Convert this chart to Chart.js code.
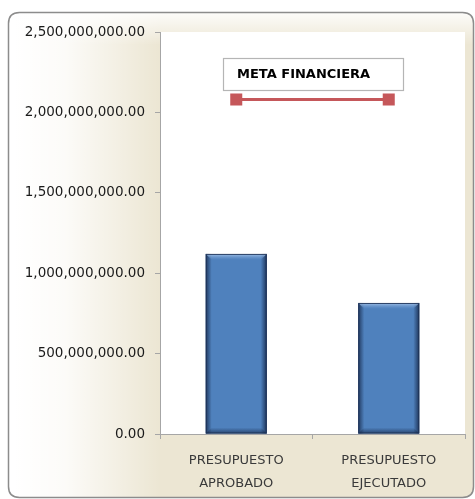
<!DOCTYPE html>
<html>
<head>
<meta charset="utf-8">
<script src="https://cdn.jsdelivr.net/npm/chart.js@4/dist/chart.umd.min.js"></script>
<style>
html,body{margin:0;padding:0;background:#ffffff;}
#wrap{width:475px;height:499px;position:relative;}
</style>
</head>
<body>
<div id="wrap"><canvas id="c" width="475" height="499"></canvas></div>
<script>
// ---- data ----
const categories = [["PRESUPUESTO","APROBADO"],["PRESUPUESTO","EJECUTADO"]];
const budgetValues = [1120000000, 815000000];
const goalValues = [2080000000, 2080000000];
const goalLabel = "META FINANCIERA";
const yMin = 0, yMax = 2500000000, yStep = 500000000;

const BEIGE = '#ECE6D3';

function roundRect(ctx, x, y, w, h, r) {
  ctx.beginPath();
  ctx.moveTo(x + r, y);
  ctx.lineTo(x + w - r, y);
  ctx.quadraticCurveTo(x + w, y, x + w, y + r);
  ctx.lineTo(x + w, y + h - r);
  ctx.quadraticCurveTo(x + w, y + h, x + w - r, y + h);
  ctx.lineTo(x + r, y + h);
  ctx.quadraticCurveTo(x, y + h, x, y + h - r);
  ctx.lineTo(x, y + r);
  ctx.quadraticCurveTo(x, y, x + r, y);
  ctx.closePath();
}

const bgPlugin = {
  id: 'bg',
  beforeDraw(chart) {
    const ctx = chart.ctx, a = chart.chartArea;
    ctx.save();
    const bx = 8.5, by = 12.5, bw = 465, bh = 485;
    roundRect(ctx, bx, by, bw, bh, 11);
    ctx.fillStyle = BEIGE;
    ctx.fill();
    ctx.save();
    ctx.clip();
    let g = ctx.createLinearGradient(14, 0, 160, 0);
    g.addColorStop(0, 'rgba(255,255,255,1)');
    g.addColorStop(0.35, 'rgba(255,255,255,0.85)');
    g.addColorStop(1, 'rgba(255,255,255,0)');
    ctx.fillStyle = g;
    ctx.fillRect(0, 0, 475, 499);
    let g2 = ctx.createLinearGradient(0, 12, 0, 45);
    g2.addColorStop(0, 'rgba(255,255,255,0.9)');
    g2.addColorStop(1, 'rgba(255,255,255,0)');
    ctx.fillStyle = g2;
    ctx.fillRect(0, 0, 475, 60);
    ctx.restore();
    // border
    roundRect(ctx, bx, by, bw, bh, 11);
    ctx.strokeStyle = '#8C8C8C';
    ctx.lineWidth = 1.5;
    ctx.stroke();
    // plot area
    ctx.fillStyle = '#FFFFFF';
    ctx.fillRect(a.left, a.top, a.right - a.left, a.bottom - a.top);
    ctx.restore();
  }
};

const bevelPlugin = {
  id: 'bevel',
  afterDatasetDraw(chart, args) {
    if (args.index !== 1) return;
    const ctx = chart.ctx;
    const meta = chart.getDatasetMeta(1);
    meta.data.forEach(bar => {
      const l = bar.x - bar.width / 2, r = bar.x + bar.width / 2, t = bar.y, b = bar.base;
      if (![l, r, t, b].every(Number.isFinite)) return;
      const e = 6;
      ctx.save();
      // left edge
      let g = ctx.createLinearGradient(l, 0, l + e, 0);
      g.addColorStop(0, 'rgba(25,45,80,0.85)');
      g.addColorStop(1, 'rgba(25,45,80,0)');
      ctx.fillStyle = g; ctx.fillRect(l, t, e, b - t);
      // right edge
      g = ctx.createLinearGradient(r - e, 0, r, 0);
      g.addColorStop(0, 'rgba(25,45,80,0)');
      g.addColorStop(1, 'rgba(25,45,80,0.9)');
      ctx.fillStyle = g; ctx.fillRect(r - e, t, e, b - t);
      // top bevel
      g = ctx.createLinearGradient(0, t, 0, t + e);
      g.addColorStop(0, 'rgba(170,200,235,0.9)');
      g.addColorStop(1, 'rgba(120,160,215,0)');
      ctx.fillStyle = g;
      ctx.beginPath();
      ctx.moveTo(l, t); ctx.lineTo(r, t); ctx.lineTo(r - e, t + e); ctx.lineTo(l + e, t + e); ctx.closePath();
      ctx.fill();
      // bottom
      g = ctx.createLinearGradient(0, b - e, 0, b);
      g.addColorStop(0, 'rgba(25,45,80,0)');
      g.addColorStop(1, 'rgba(25,45,80,0.7)');
      ctx.fillStyle = g;
      ctx.beginPath();
      ctx.moveTo(l, b); ctx.lineTo(r, b); ctx.lineTo(r - e, b - e); ctx.lineTo(l + e, b - e); ctx.closePath();
      ctx.fill();
      ctx.strokeStyle = 'rgba(30,50,85,0.9)';
      ctx.lineWidth = 1;
      ctx.strokeRect(l + 0.5, t + 0.5, r - l - 1, b - t - 1);
      ctx.restore();
    });
  }
};

const titleBoxPlugin = {
  id: 'titleBox',
  afterDraw(chart) {
    const ctx = chart.ctx, a = chart.chartArea;
    const x = a.left + 63, y = a.top + 26, w = 180, h = 32;
    ctx.save();
    ctx.fillStyle = '#FFFFFF';
    ctx.fillRect(x, y, w, h);
    ctx.strokeStyle = '#B5B5B5';
    ctx.lineWidth = 1.2;
    ctx.strokeRect(x + 0.5, y + 0.5, w, h);
    ctx.fillStyle = '#000000';
    ctx.font = 'bold 13px "DejaVu Sans"';
    ctx.textBaseline = 'middle';
    ctx.textAlign = 'left';
    ctx.fillText(goalLabel, x + 14, y + h / 2 + 1);
    ctx.restore();
  }
};

new Chart(document.getElementById('c'), {
  data: {
    labels: categories,
    datasets: [
      {
        type: 'line',
        label: goalLabel,
        data: goalValues,
        borderColor: '#C5575A',
        backgroundColor: '#C5575A',
        borderWidth: 3,
        pointStyle: 'rect',
        pointRadius: 8.5,
        pointBorderWidth: 0,
        pointBackgroundColor: '#C5575A',
        order: 0
      },
      {
        type: 'bar',
        label: 'Presupuesto',
        data: budgetValues,
        backgroundColor: '#4F81BD',
        borderWidth: 0,
        barPercentage: 0.4,
        categoryPercentage: 1,
        order: 1
      }
    ]
  },
  options: {
    responsive: false,
    animation: false,
    devicePixelRatio: 1,
    layout: { padding: { left: 0, top: 32, right: 10, bottom: 0 } },
    plugins: {
      legend: { display: false },
      tooltip: { enabled: false },
      title: { display: false }
    },
    scales: {
      x: {
        offset: true,
        grid: { display: true, drawOnChartArea: false, offset: true, tickLength: 5, color: '#A6A6A6' },
        border: { display: true, color: '#A6A6A6' },
        ticks: {
          color: '#3A3A3A',
          font: { family: '"DejaVu Sans"', size: 13, lineHeight: 1.7 },
          padding: 11,
          maxRotation: 0
        },
        afterFit(scale) { scale.height = 65; }
      },
      y: {
        min: yMin,
        max: yMax,
        grid: { display: true, drawOnChartArea: false, tickLength: 5, color: '#A6A6A6' },
        border: { display: true, color: '#A6A6A6' },
        ticks: {
          stepSize: yStep,
          color: '#1A1A1A',
          font: { family: '"DejaVu Sans"', size: 13.5 },
          padding: 10,
          callback: v => Number(v).toLocaleString('en-US', { minimumFractionDigits: 2, maximumFractionDigits: 2 })
        },
        afterFit(scale) { scale.width = 160; }
      }
    }
  },
  plugins: [bgPlugin, bevelPlugin, titleBoxPlugin]
});
</script>
</body>
</html>
